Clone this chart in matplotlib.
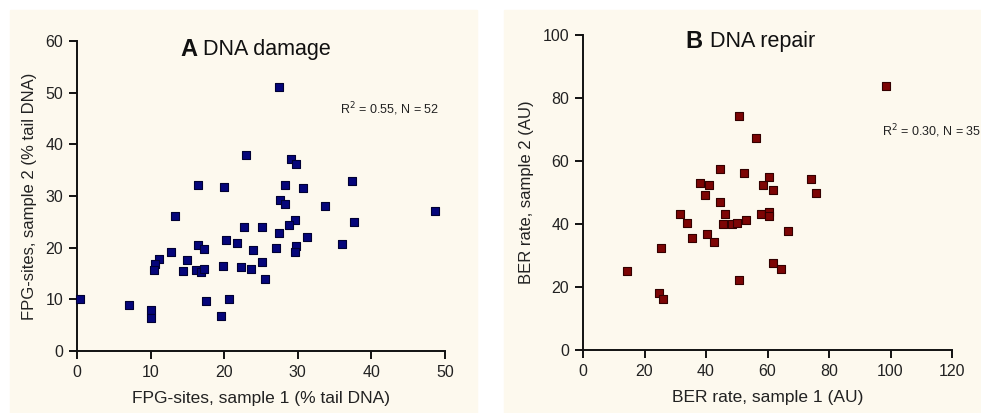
import matplotlib
matplotlib.use("Agg")
import matplotlib.pyplot as plt
from matplotlib.patches import Rectangle

# panel A: FPG-sites (% tail DNA)
damage_s1 = [27.5, 23.0, 29.1, 29.8, 16.5, 20.0, 28.3, 30.7, 37.4, 27.6,
             28.3, 33.7, 48.6, 13.3, 29.6, 28.8, 37.6, 22.7, 25.2, 27.4,
             31.2, 20.2, 21.8, 36.0, 27.1, 29.8, 29.6, 16.4, 17.3, 12.8,
             23.9, 15.0, 11.1, 10.6, 10.4, 14.4, 16.2, 16.8, 17.2, 19.9,
             22.3, 23.7, 25.2, 25.6, 0.45, 7.1, 10.0, 10.1, 17.5, 20.7,
             19.6]
damage_s2 = [51.1, 37.9, 37.1, 36.2, 32.2, 31.7, 32.1, 31.5, 33.0, 29.3,
             28.4, 28.1, 27.1, 26.2, 25.4, 24.4, 25.0, 24.0, 24.0, 22.8,
             22.0, 21.5, 20.9, 20.8, 19.9, 20.3, 19.1, 20.5, 19.8, 19.1,
             19.5, 17.7, 17.8, 16.8, 15.7, 15.5, 15.7, 15.2, 15.9, 16.4,
             16.2, 15.8, 17.2, 14.0, 10.0, 8.9, 8.0, 6.3, 9.6, 10.1,
             6.8]

# panel B: BER rate (AU)
repair_s1 = [98.6, 50.8, 56.3, 44.4, 52.4, 60.5, 74.0, 37.9, 41.0, 58.4,
             39.6, 61.9, 75.9, 44.4, 31.4, 46.3, 58.0, 60.5, 60.5, 33.8,
             45.6, 48.3, 50.1, 53.0, 35.3, 40.2, 42.7, 66.6, 25.4, 61.8,
             64.3, 14.4, 50.8, 24.7, 25.9]
repair_s2 = [83.8, 74.3, 67.4, 57.4, 56.3, 54.8, 54.3, 53.1, 52.3, 52.3,
             49.3, 50.7, 49.8, 46.9, 43.2, 43.2, 43.2, 43.8, 42.6, 40.2,
             40.1, 39.9, 40.4, 41.3, 35.7, 36.8, 34.3, 37.7, 32.3, 27.7,
             25.6, 25.1, 22.2, 18.0, 16.2]

plt.rcParams["font.family"] = ["Liberation Sans", "DejaVu Sans"]

bg = "#fdf9ee"
txt = "#222222"

fig = plt.figure(figsize=(9.81, 4.13), dpi=100)
fig.patch.set_facecolor("white")

# cream panel backgrounds behind everything
back = fig.add_axes([0, 0, 1, 1], zorder=-10)
back.set_xlim(0, 981)
back.set_ylim(413, 0)
back.axis("off")
back.add_patch(Rectangle((10, 10), 467, 403, color=bg))
back.add_patch(Rectangle((504, 10), 477, 403, color=bg))

axA = fig.add_axes([77 / 981, 62 / 413, 368 / 981, 310 / 413])
axB = fig.add_axes([583 / 981, 63 / 413, 369 / 981, 315 / 413])


def style(ax):
    ax.set_facecolor("none")
    for s in ["top", "right"]:
        ax.spines[s].set_visible(False)
    for s in ["left", "bottom"]:
        ax.spines[s].set_linewidth(1.4)
        ax.spines[s].set_color("#111111")
    ax.tick_params(direction="out", length=6, width=1.4, color="#111111",
                   labelsize=11.5, labelcolor=txt, pad=4)


style(axA)
axA.scatter(damage_s1, damage_s2, marker="s", s=36, color="#05057a",
            edgecolors="#000033", linewidths=0.8, zorder=5, clip_on=False)
axA.set_xlim(0, 50)
axA.set_ylim(0, 60)
axA.set_xticks([0, 10, 20, 30, 40, 50])
axA.set_yticks([0, 10, 20, 30, 40, 50, 60])
axA.set_xlabel("FPG-sites, sample 1 (% tail DNA)", fontsize=12.5, color=txt, labelpad=8)
axA.set_ylabel("FPG-sites, sample 2 (% tail DNA)", fontsize=12, color=txt, labelpad=6)
axA.text(0.326, 0.974, "A", transform=axA.transAxes, fontsize=17, fontweight="bold",
         ha="right", va="center", color="#111111")
axA.text(0.342, 0.974, "DNA damage", transform=axA.transAxes, fontsize=15.5,
         ha="left", va="center", color="#111111")
axA.text(0.715, 0.78, "R$^2$ = 0.55, N = 52", transform=axA.transAxes,
         fontsize=9, ha="left", va="center", color=txt)

style(axB)
axB.scatter(repair_s1, repair_s2, marker="s", s=36, color="#7d0505",
            edgecolors="#330000", linewidths=0.8, zorder=5, clip_on=False)
axB.set_xlim(0, 120)
axB.set_ylim(0, 100)
axB.set_xticks([0, 20, 40, 60, 80, 100, 120])
axB.set_yticks([0, 20, 40, 60, 80, 100])
axB.set_xlabel("BER rate, sample 1 (AU)", fontsize=12.5, color=txt, labelpad=8)
axB.set_ylabel("BER rate, sample 2 (AU)", fontsize=12, color=txt, labelpad=6)
axB.text(0.3225, 0.978, "B", transform=axB.transAxes, fontsize=17, fontweight="bold",
         ha="right", va="center", color="#111111")
axB.text(0.344, 0.978, "DNA repair", transform=axB.transAxes, fontsize=15.5,
         ha="left", va="center", color="#111111")
axB.text(0.81, 0.695, "R$^2$ = 0.30, N = 35", transform=axB.transAxes,
         fontsize=9, ha="left", va="center", color=txt)

fig.savefig("out.png", dpi=100, facecolor=fig.get_facecolor())
